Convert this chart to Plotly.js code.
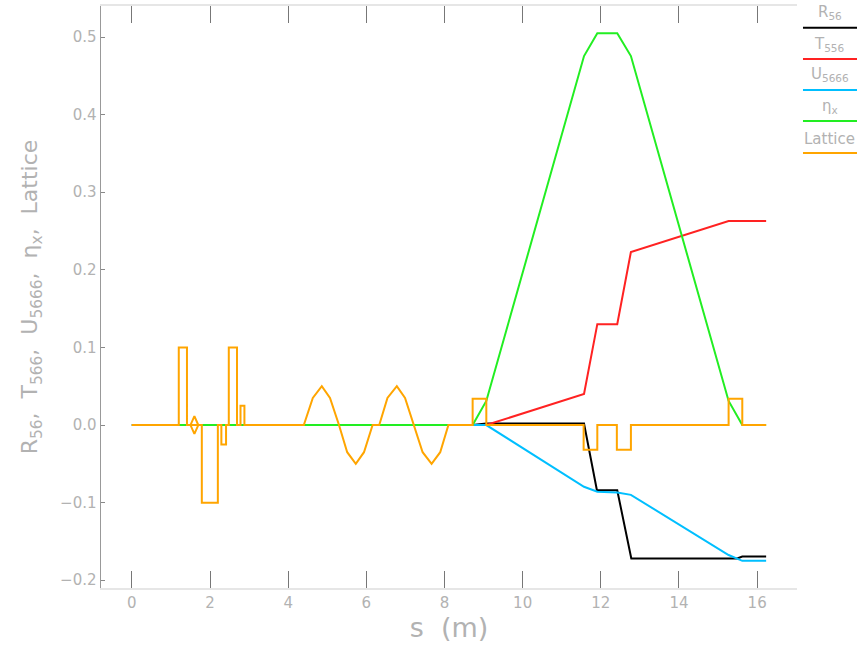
<!DOCTYPE html>
<html>
<head>
<meta charset="utf-8">
<script src="https://cdn.plot.ly/plotly-3.0.1.min.js"></script>
<style>html,body{margin:0;padding:0;background:#fff;}#chart{width:859px;height:646px;}</style>
</head>
<body>
<div id="chart"></div>
<script>
// Series names
const seriesNames = ["R<sub>56</sub>", "T<sub>556</sub>", "U<sub>5666</sub>", "η<sub>x</sub>", "Lattice"];
const seriesColors = ["#000000", "#ff2222", "#00bfff", "#22ee22", "#ffa500"];

// R56
const r56S = [0, 8.72, 9.07, 11.57, 11.9, 12.42, 12.78, 15.49, 15.62, 16.23];
const r56V = [0, 0, 0.002, 0.002, -0.084, -0.084, -0.172, -0.172, -0.1695, -0.1695];

// T556
const t556S = [0, 9.07, 11.57, 11.91, 12.42, 12.77, 15.27, 16.23];
const t556V = [0, 0, 0.040, 0.130, 0.130, 0.223, 0.263, 0.263];

// U5666
const u5666S = [0, 9.07, 11.57, 11.91, 12.42, 12.77, 15.27, 15.62, 16.23];
const u5666V = [0, 0, -0.0795, -0.086, -0.0868, -0.090, -0.1675, -0.175, -0.175];

// eta_x
const etaS = [0, 8.72, 9.07, 11.57, 11.91, 12.42, 12.77, 15.27, 15.62, 16.23];
const etaV = [0, 0, 0.031, 0.4755, 0.505, 0.505, 0.4755, 0.031, 0, 0];

// Lattice outline
const latS = [0, 1.2, 1.2, 1.41, 1.41, 1.5, 1.6, 1.7, 1.6, 1.5, 1.79, 1.79, 2.2, 2.2,
  2.29, 2.29, 2.41, 2.41, 2.48, 2.48, 2.69, 2.69, 2.78, 2.78, 2.88, 2.88,
  4.4, 4.63, 4.86, 5.07, 5.30, 5.51, 5.73, 5.94, 6.16,
  6.33, 6.54, 6.78, 6.99, 7.22, 7.44, 7.67, 7.89, 8.10,
  8.72, 8.72, 9.07, 9.07, 11.56, 11.56, 11.91, 11.91, 12.41, 12.41, 12.77, 12.77,
  15.27, 15.27, 15.62, 15.62, 16.23];
const latV = [0, 0, 0.1, 0.1, 0, 0, 0.0115, 0, -0.0115, 0, 0, -0.1, -0.1, 0,
  0, -0.025, -0.025, 0, 0, 0.1, 0.1, 0, 0, 0.025, 0.025, 0,
  0, 0.035, 0.05, 0.035, 0, -0.035, -0.05, -0.035, 0,
  0, 0.035, 0.05, 0.035, 0, -0.035, -0.05, -0.035, 0,
  0, 0.034, 0.034, 0, 0, -0.032, -0.032, 0, 0, -0.032, -0.032, 0,
  0, 0.034, 0.034, 0, 0];

// Axis ticks
const xTickVals = [0, 2, 4, 6, 8, 10, 12, 14, 16];
const xTickText = ["0", "2", "4", "6", "8", "10", "12", "14", "16"];
const yTickVals = [-0.2, -0.1, 0, 0.1, 0.2, 0.3, 0.4, 0.5];
const yTickText = ["−0.2", "−0.1", "0.0", "0.1", "0.2", "0.3", "0.4", "0.5"];

const xs = [r56S, t556S, u5666S, etaS, latS];
const ys = [r56V, t556V, u5666V, etaV, latV];

const traces = xs.map((x, i) => ({
  x: x, y: ys[i], type: "scatter", mode: "lines", name: seriesNames[i],
  line: {color: seriesColors[i], width: 2}, showlegend: false, hoverinfo: "skip"
}));

const textColor = "#b2b2b2";
const font = "DejaVu Sans, sans-serif";

// legend drawn as labels above colored lines, right of plot
const legLineY = [0.9627, 0.9089, 0.8557, 0.8024, 0.7474];
const annotations = seriesNames.map((n, i) => ({
  xref: "paper", yref: "paper", x: 1.0474, y: legLineY[i] + 0.006,
  xanchor: "center", yanchor: "bottom", text: n, showarrow: false,
  font: {family: font, size: 15, color: textColor}
}));
const shapes = seriesNames.map((n, i) => ({
  type: "line", xref: "paper", yref: "paper", x0: 1.0086, x1: 1.0862,
  y0: legLineY[i], y1: legLineY[i], line: {color: seriesColors[i], width: 2}
}));

const layout = {
  width: 859, height: 646,
  margin: {l: 101, r: 62, t: 6, b: 58},
  paper_bgcolor: "#fff", plot_bgcolor: "#fff",
  font: {family: font, color: textColor, size: 15},
  showlegend: false,
  xaxis: {
    range: [-0.79, 17.02], tickvals: xTickVals, ticktext: xTickText,
    ticks: "inside", ticklen: 17, tickcolor: "#777", tickwidth: 1,
    showline: true, linecolor: "#e6e6e6", linewidth: 2, mirror: "ticks",
    showgrid: false, zeroline: false,
    tickfont: {family: font, size: 15, color: textColor},
    title: {text: "s  (m)", font: {family: font, size: 27, color: textColor}, standoff: 6}
  },
  yaxis: {
    range: [-0.210, 0.540], tickvals: yTickVals, ticktext: yTickText,
    ticks: "inside", ticklen: 4, tickcolor: "#888",
    showline: true, linecolor: "#999", linewidth: 1.5, mirror: false,
    showgrid: false, zeroline: false,
    tickfont: {family: font, size: 15, color: textColor},
    title: {text: "R<sub>56</sub>,  T<sub>566</sub>,  U<sub>5666</sub>,  η<sub>x</sub>,  Lattice",
            font: {family: font, size: 22, color: textColor}, standoff: 16}
  },
  annotations: annotations,
  shapes: shapes
};

Plotly.newPlot("chart", traces, layout, {staticPlot: true, displayModeBar: false});
</script>
</body>
</html>
